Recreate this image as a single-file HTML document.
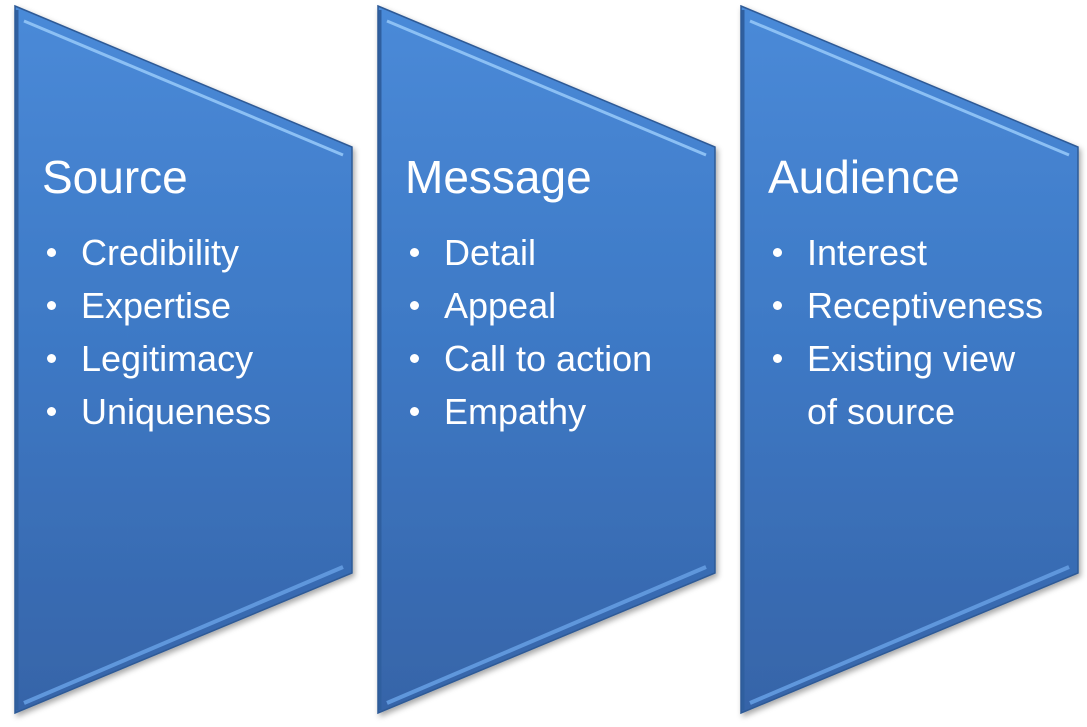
<!DOCTYPE html>
<html><head><style>
html,body{margin:0;padding:0;background:#fff;width:1087px;height:727px;overflow:hidden;position:relative;font-family:"Liberation Sans",sans-serif;}
svg{position:absolute;left:0;top:0}
.t{position:absolute;color:#fff;white-space:nowrap;}
.h{font-size:46px;}
.b{font-size:36px;line-height:53px;}
.b div{position:relative;padding-left:39px;}
.b div:before{content:"";position:absolute;left:5px;top:22px;width:9px;height:9px;border-radius:50%;background:#fff;}
</style></head><body>
<svg width="1087" height="727">
<defs>
<linearGradient id="g" x1="0" y1="0" x2="0" y2="1">
<stop offset="0" stop-color="#4a8ad8"/><stop offset="0.5" stop-color="#3d78c4"/><stop offset="1" stop-color="#3664a8"/>
</linearGradient>
<filter id="s"><feDropShadow dx="2" dy="3" stdDeviation="3" flood-color="#000" flood-opacity="0.35"/></filter>
</defs>
<g id="p">
<polygon points="15,6 352,147 352,573 15,713" fill="url(#g)" stroke="#2e5a96" stroke-width="1.5" filter="url(#s)"/>
<polyline points="24,21 343,155" fill="none" stroke="#8cc0f4" stroke-width="3"/>
<polyline points="24,703 343,567" fill="none" stroke="#5f97dc" stroke-width="4"/>
<line x1="17" y1="10" x2="17" y2="710" stroke="#2f5f9f" stroke-width="3"/>
</g>
<use href="#p" x="363"/>
<use href="#p" x="726"/>
</svg>
<div class="t h" style="left:42px;top:150px">Source</div>
<div class="t b" style="left:42px;top:226px"><div>Credibility</div><div>Expertise</div><div>Legitimacy</div><div>Uniqueness</div></div>
<div class="t h" style="left:405px;top:150px">Message</div>
<div class="t b" style="left:405px;top:226px"><div>Detail</div><div>Appeal</div><div>Call to action</div><div>Empathy</div></div>
<div class="t h" style="left:768px;top:150px">Audience</div>
<div class="t b" style="left:768px;top:226px"><div>Interest</div><div>Receptiveness</div><div>Existing view</div></div>
<div class="t b" style="left:807px;top:385px">of source</div>
</body></html>
